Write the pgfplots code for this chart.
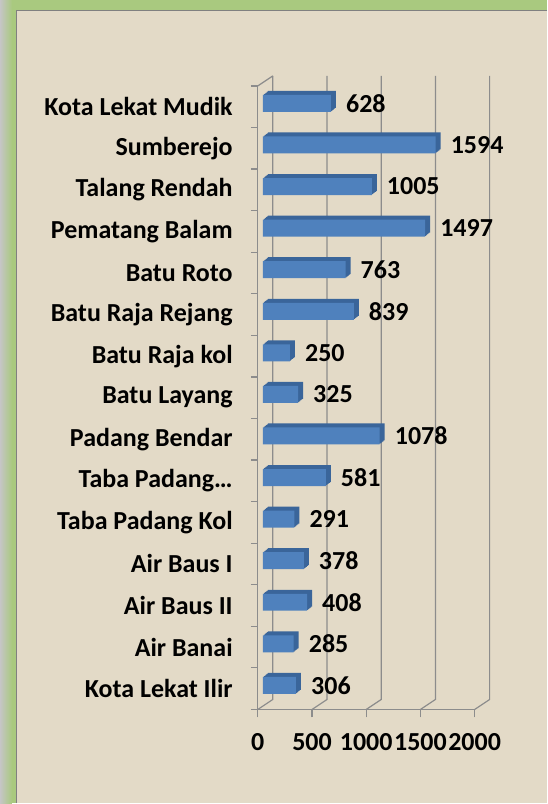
\documentclass[border=0pt]{standalone}
\usepackage{pgfplots}
\usepackage{pgfplotstable}
\pgfplotsset{compat=1.18}
\usepackage{fontspec}
\setmainfont{Carlito}
\definecolor{framegreen}{HTML}{A9C97F}
\definecolor{paper}{HTML}{E3DAC7}
\definecolor{gridgray}{HTML}{8C8C8C}
\definecolor{barfront}{HTML}{4F81BD}
\definecolor{barside}{HTML}{3A659A}
\pgfplotstableread{
idx value
0 306
1 285
2 408
3 378
4 291
5 581
6 1078
7 325
8 250
9 839
10 763
11 1497
12 1005
13 1594
14 628
}\datatable
\newcommand{\lblfont}{\fontsize{26}{30}\selectfont\bfseries}
\begin{document}
\begin{tikzpicture}[x=1pt,y=1pt]
\shade[left color=gray!45, right color=framegreen] (0,0) rectangle (12,804);
\fill[framegreen] (12,0) rectangle (547,804);
\fill[paper] (16,0) rectangle (547,793);
\draw[gray, line width=1.2pt] (16.5,0) -- (16.5,793.5) -- (547,793.5);
\begin{axis}[
  at={(258pt,94pt)}, anchor=south west,
  scale only axis, width=217pt, height=624pt,
  xmin=0, xmax=2000, ymin=-0.5, ymax=14.5,
  axis x line*=bottom, axis y line*=left,
  axis line style={gridgray, line width=1.2pt},
  tick align=outside,
  xtick={0,500,1000,1500,2000},
  xticklabels={0,500,1000,1500,2000},
  major tick length=8pt,
  minor tick length=7pt,
  x tick style={gridgray, line width=1.2pt},
  ytick={0,...,14},
  yticklabels={Kota Lekat Ilir,Air Banai,Air Baus II,Air Baus I,Taba Padang Kol,Taba Padang…,Padang Bendar,Batu Layang,Batu Raja kol,Batu Raja Rejang,Batu Roto,Pematang Balam,Talang Rendah,Sumberejo,Kota Lekat Mudik},
  major y tick style={draw=none},
  minor ytick={-0.5,0.5,...,14.5},
  minor y tick style={gridgray, line width=1.2pt},
  xticklabel style={font=\lblfont, inner sep=0pt, yshift=-16pt},
  yticklabel style={font=\lblfont, inner sep=0pt, xshift=-17pt},
  clip=false,
]
\pgfplotsinvokeforeach{0,500,1000,1500,2000}{
  \draw[gridgray, line width=1.2pt] (axis cs:#1,-0.5) -- ([shift={(15pt,10pt)}]axis cs:#1,-0.5) -- ([shift={(15pt,10pt)}]axis cs:#1,14.5);
}
\draw[gridgray, line width=1.2pt] (axis cs:0,14.5) -- ([shift={(15pt,10pt)}]axis cs:0,14.5);
\pgfplotsinvokeforeach{1,2,3,4,5}{
  \addplot[xbar, bar width=17pt, bar shift=0pt, fill=barside, draw=none, xshift=5pt+#1*1pt, yshift=3.3pt+#1*0.8pt] table[x=value, y=idx]{\datatable};
}
\addplot[xbar, bar width=17pt, bar shift=0pt, fill=barfront, draw=none, xshift=5pt, yshift=3.3pt,
  point meta=explicit symbolic, nodes near coords,
  every node near coord/.append style={font=\lblfont, anchor=west, inner sep=0pt, xshift=15pt, yshift=0pt, text=black}]
  table[x=value, y=idx, meta=value]{\datatable};
\end{axis}
\end{tikzpicture}
\end{document}
